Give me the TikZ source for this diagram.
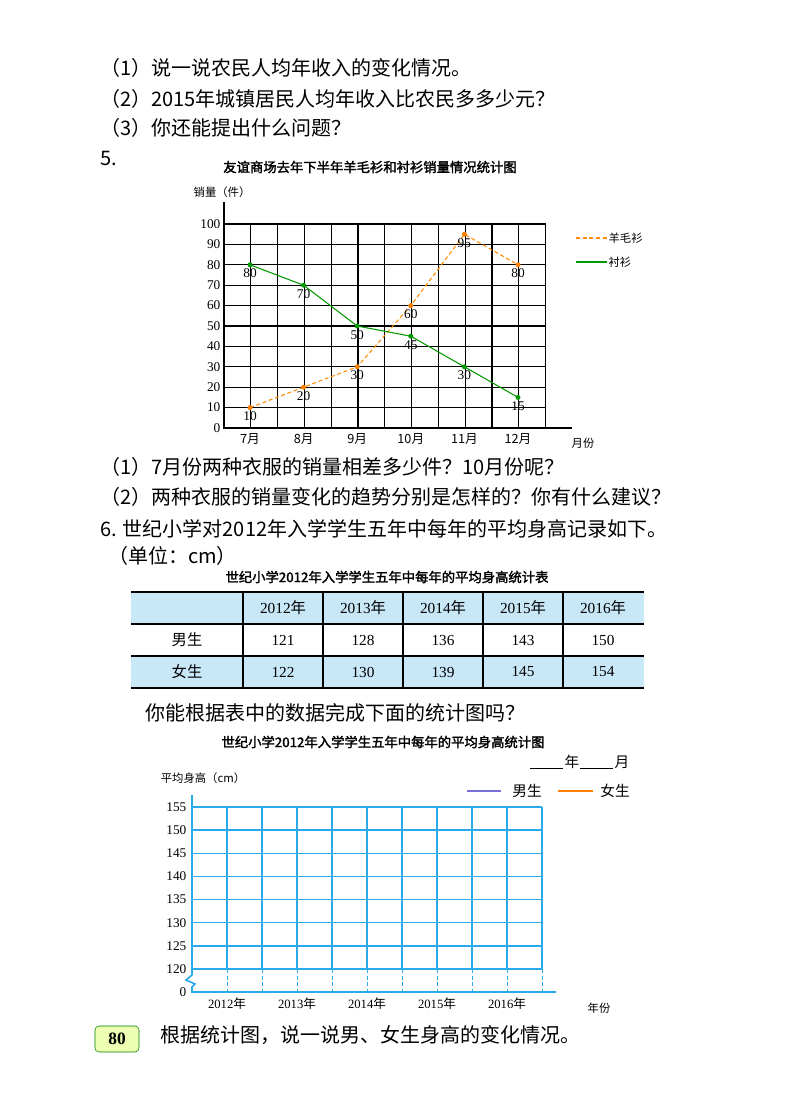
\documentclass[tikz,border=0pt]{standalone}
\usepackage{fontspec}
\setmainfont{Liberation Serif}
\newfontfamily\cjk{Noto Sans CJK SC}
\newfontfamily\cjkb{Noto Sans CJK SC}[FakeBold=2]
\begin{document}
\begin{tikzpicture}[x=0.75pt,y=-0.75pt,
 body/.style={anchor=west,inner sep=0,font=\cjk\fontsize{15}{15}\selectfont},
 small/.style={inner sep=1pt,font=\fontsize{10}{10}\selectfont},
 smallc/.style={inner sep=1pt,font=\cjk\fontsize{8.5}{9}\selectfont},
 ttl/.style={inner sep=0,font=\cjkb\fontsize{10}{10}\selectfont},
 wool/.style={orange!90!yellow,densely dashed,line width=0.8pt},
 shirt/.style={green!60!black,line width=0.8pt},
 bl/.style={color={rgb,255:red,40;green,170;blue,235}}]
\useasboundingbox (0,0) rectangle (800,1114);
\node[body] (t1) at (100,68) {（1）说一说农民人均年收入的变化情况。};
\node[body] (t2) at (100,99) {（2）2015年城镇居民人均年收入比农民多多少元？};
\node[body] (t3) at (100,128) {（3）你还能提出什么问题？};
\node[body] (t5) at (100,158) {5.};
\node[ttl] (ct1) at (370,167) {友谊商场去年下半年羊毛衫和衬衫销量情况统计图};
\node[smallc] (yl1) at (222,192) {销量（件）};
\foreach \i in {0,...,12} \draw[line width=0.8pt] (224+26.8*\i,224) -- (224+26.8*\i,428);
\foreach \j in {1,...,10} \draw[line width=0.8pt] (224,428-20.4*\j) -- (546,428-20.4*\j);
\draw[line width=1pt] (224,202) -- (224,428) -- (572,428);
\foreach \j in {0,...,10} {\pgfmathtruncatemacro\v{10*\j}\node[small,anchor=east] (yt\j) at (222,428-20.4*\j) {\v};}
\foreach \m [count=\k from 0] in {7,8,9,10,11,12} \node[smallc,font=\cjk\fontsize{9.5}{10}\selectfont] (mx\k) at (250+53.6*\k,439) {\m 月};
\node[smallc] (xl1) at (583,443) {月份};
\foreach \v [count=\k from 0] in {10,20,30,60,95,80} \coordinate (w\k) at (250+53.6*\k,428-2.04*\v);
\foreach \v [count=\k from 0] in {80,70,50,45,30,15} \coordinate (s\k) at (250+53.6*\k,428-2.04*\v);
\draw[wool] (w0)--(w1)--(w2)--(w3)--(w4)--(w5);
\draw[shirt] (s0)--(s1)--(s2)--(s3)--(s4)--(s5);
\foreach \v [count=\k from 0] in {10,20,30,60,95,80} {\fill[orange] (w\k) circle (2.5); \node[small,anchor=north,inner sep=0] (wl\k) at ([yshift=-3pt]w\k) {\v};}
\foreach \v [count=\k from 0] in {80,70,50,45,30,15} {\fill[green!60!black] (s\k) circle (2.5); \node[small,anchor=north,inner sep=0] (sl\k) at ([yshift=-3pt]s\k) {\v};}
\coordinate (lw1) at (576,238); \coordinate (lw2) at (607,238);
\draw[wool] (lw1) -- (lw2);
\node[smallc,anchor=west] (lwt) at (607,238) {羊毛衫};
\coordinate (ls1) at (576,262); \coordinate (ls2) at (607,262);
\draw[shirt] (ls1) -- (ls2);
\node[smallc,anchor=west] (lst) at (607,262) {衬衫};
\node[body] (q1) at (100,467) {（1）7月份两种衣服的销量相差多少件？10月份呢？};
\node[body] (q2) at (100,497) {（2）两种衣服的销量变化的趋势分别是怎样的？你有什么建议？};
\node[body] (t6) at (100,529) {6. 世纪小学对2012年入学学生五年中每年的平均身高记录如下。};
\node[body] (unit) at (108,556) {（单位：cm）};
\node[ttl] (ct2) at (387,577) {世纪小学2012年入学学生五年中每年的平均身高统计表};
\fill[fill={rgb,255:red,200;green,232;blue,248}] (131,592) rectangle (644,624);
\fill[fill={rgb,255:red,200;green,232;blue,248}] (131,656) rectangle (644,688);
\foreach \y in {592,624,656,688} \draw[line width=0.8pt] (131,\y) -- (644,\y);
\foreach \x in {243,323,403,483,563} \draw[line width=0.8pt] (\x,592) -- (\x,688);
\foreach \t [count=\k from 0] in {2012,2013,2014,2015,2016} \node[inner sep=0,font=\fontsize{11.5}{12}\selectfont] (h\k) at (283+80*\k,608) {\t{\cjk 年}};
\node[inner sep=0,font=\cjk\fontsize{11.5}{12}\selectfont] (rb) at (187,640) {男生};
\node[inner sep=0,font=\cjk\fontsize{11.5}{12}\selectfont] (rg) at (187,672) {女生};
\foreach \t [count=\k from 0] in {121,128,136,143,150} \node[inner sep=0,font=\fontsize{11.5}{12}\selectfont] (b\k) at (283+80*\k,640) {\t};
\foreach \t [count=\k from 0] in {122,130,139,145,154} \node[inner sep=0,font=\fontsize{11.5}{12}\selectfont] (g\k) at (283+80*\k,672) {\t};
\node[body] (q3) at (145,713) {你能根据表中的数据完成下面的统计图吗？};
\node[ttl] (ct3) at (383,742) {世纪小学2012年入学学生五年中每年的平均身高统计图};
\node[smallc] (yl2) at (203,778) {平均身高（cm）};
\foreach \i in {1,...,10} {\draw[bl,line width=1pt] (192+35*\i,807) -- (192+35*\i,969); \draw[bl,densely dashed,line width=0.7pt] (192+35*\i,969) -- (192+35*\i,992);}
\foreach \j in {0,...,7} \draw[bl,line width=1.1pt] (192,969-23.14*\j) -- (542,969-23.14*\j);
\foreach \j in {0,...,7} {\pgfmathtruncatemacro\v{120+5*\j}\node[small,anchor=east] (ht\j) at (188,969-23.14*\j) {\v};}
\draw[bl,line width=1.2pt] (192,795) -- (192,975) -- (186,980) -- (195,984) -- (192,987) -- (192,992) -- (556,992);
\node[small,anchor=east] (h0) at (188,992) {0};
\foreach \t [count=\k from 0] in {2012,2013,2014,2015,2016} \node[inner sep=0,font=\fontsize{9.5}{10}\selectfont] (yr\k) at (227+70*\k,1004) {\t{\cjk 年}};
\node[smallc] (xl2) at (599,1008) {年份};
\draw[line width=0.6pt] (530,768) -- (563,768); \node[smallc,font=\cjk\fontsize{11}{11}\selectfont] (yy) at (572,762) {年};
\draw[line width=0.6pt] (580,768) -- (613,768); \node[smallc,font=\cjk\fontsize{11}{11}\selectfont] (mm) at (622,762) {月};
\coordinate (lb1) at (467,791); \coordinate (lb2) at (501,791);
\draw[color={rgb,255:red,120;green,110;blue,220},line width=0.8pt] (lb1) -- (lb2);
\node[smallc,font=\cjk\fontsize{11}{11}\selectfont] (lbt) at (527,791) {男生};
\coordinate (lg1) at (558,791); \coordinate (lg2) at (593,791);
\draw[orange,line width=0.8pt] (lg1) -- (lg2);
\node[smallc,font=\cjk\fontsize{11}{11}\selectfont] (lgt) at (615,791) {女生};
\node[draw=green!50!black,fill=green!25!yellow!30,rounded corners=3pt,minimum width=44pt*0.75,minimum height=26pt*0.75,inner sep=0,font=\bfseries\fontsize{13}{13}\selectfont] (pg) at (117,1039) {80};
\node[body] (q4) at (160,1035) {根据统计图，说一说男、女生身高的变化情况。};
\end{tikzpicture}
\end{document}
